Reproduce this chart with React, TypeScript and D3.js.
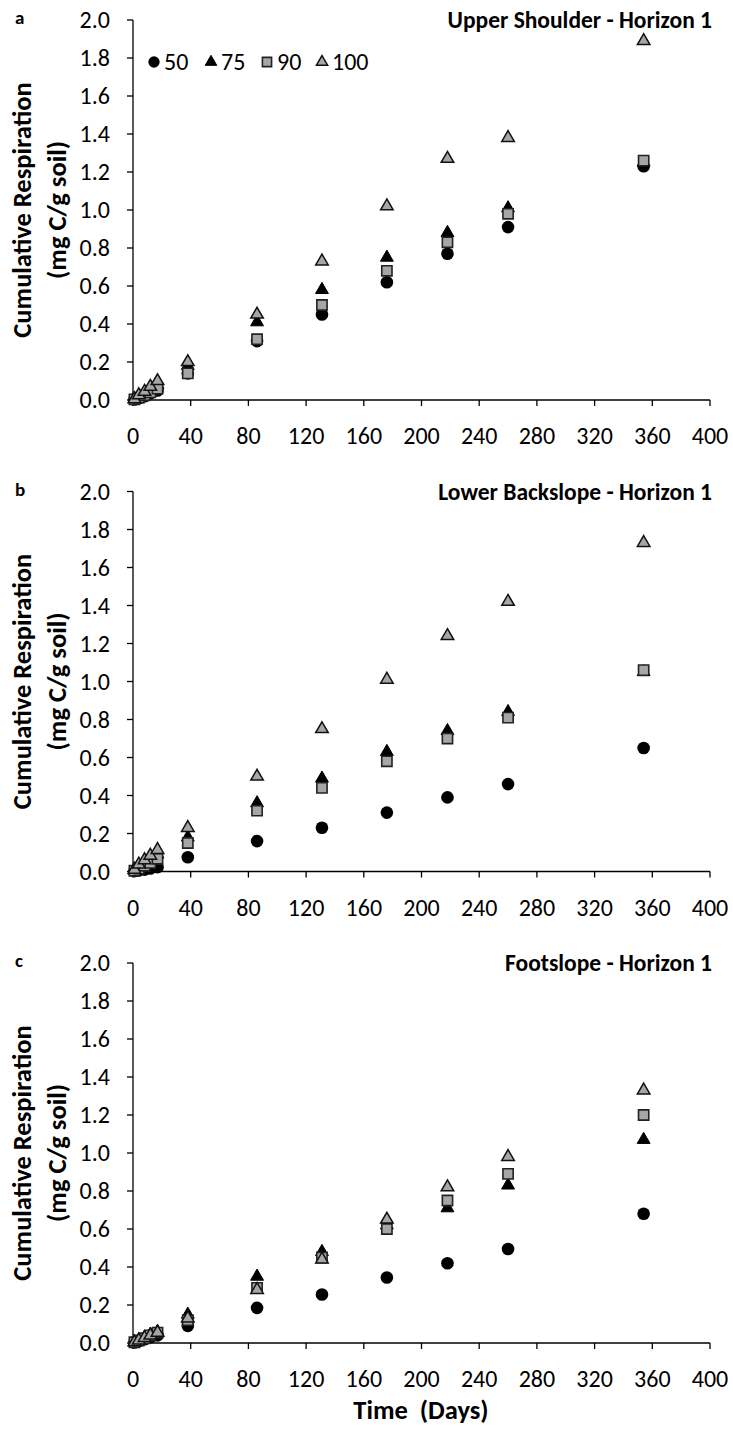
import React from "react";
import * as d3 from "d3";

const days = [1, 4, 8, 12, 17, 38, 86, 131, 176, 218, 260, 354];
const seriesNames = ["50", "75", "90", "100"];
const xTicks = [0, 40, 80, 120, 160, 200, 240, 280, 320, 360, 400];
const yTicks = [0, 0.2, 0.4, 0.6, 0.8, 1.0, 1.2, 1.4, 1.6, 1.8, 2.0];

const panelLetters = ["a", "b", "c"];
const panelTitles = ["Upper Shoulder - Horizon 1", "Lower Backslope - Horizon 1", "Footslope - Horizon 1"];

const a50 = [0.003, 0.01, 0.02, 0.035, 0.05, 0.14, 0.31, 0.45, 0.62, 0.77, 0.91, 1.23];
const a75 = [0.005, 0.015, 0.03, 0.05, 0.08, 0.18, 0.41, 0.58, 0.75, 0.88, 1.01, 1.25];
const a90 = [0.003, 0.012, 0.025, 0.04, 0.06, 0.14, 0.32, 0.50, 0.68, 0.83, 0.98, 1.26];
const a100 = [0.005, 0.026, 0.044, 0.07, 0.10, 0.20, 0.45, 0.73, 1.02, 1.27, 1.38, 1.89];

const b50 = [0.002, 0.006, 0.01, 0.016, 0.023, 0.075, 0.16, 0.23, 0.31, 0.39, 0.46, 0.65];
const b75 = [0.005, 0.02, 0.04, 0.06, 0.09, 0.18, 0.36, 0.49, 0.63, 0.74, 0.84, 1.05];
const b90 = [0.004, 0.015, 0.03, 0.045, 0.067, 0.15, 0.32, 0.44, 0.58, 0.70, 0.81, 1.06];
const b100 = [0.01, 0.037, 0.06, 0.084, 0.114, 0.23, 0.50, 0.75, 1.01, 1.24, 1.42, 1.73];

const c50 = [0.003, 0.01, 0.02, 0.03, 0.04, 0.09, 0.185, 0.255, 0.345, 0.42, 0.495, 0.68];
const c75 = [0.005, 0.015, 0.03, 0.045, 0.06, 0.15, 0.35, 0.48, 0.62, 0.71, 0.83, 1.07];
const c90 = [0.004, 0.013, 0.025, 0.04, 0.055, 0.12, 0.29, 0.45, 0.60, 0.75, 0.89, 1.20];
const c100 = [0.004, 0.014, 0.027, 0.04, 0.055, 0.13, 0.28, 0.44, 0.65, 0.82, 0.98, 1.33];

const panels = [
  [a50, a75, a90, a100],
  [b50, b75, b90, b100],
  [c50, c75, c90, c100],
];

const FONT = "Carlito, Calibri, Lato, 'Open Sans', sans-serif";
const GRAY = "#a6a6a6";

const markerStyles = [
  { type: d3.symbolCircle, size: 125, fill: "#000", stroke: "none", sw: 0 },
  { type: d3.symbolTriangle, size: 72, fill: "#000", stroke: "#000", sw: 1 },
  { type: d3.symbolSquare, size: 105, fill: GRAY, stroke: "#222", sw: 1.6 },
  { type: d3.symbolTriangle, size: 68, fill: GRAY, stroke: "#111", sw: 1.5 },
];

const X0 = 133;
const X1 = 710;
const PANEL_TOPS = [20, 491.5, 963];
const PANEL_H = 380;
const TICK_FS = 24;
const AXIS_FS = 26.5;

function Marker({ k, x, y, scale = 1 }: { k: number; x: number; y: number; scale?: number }) {
  const m = markerStyles[k];
  const path = d3.symbol().type(m.type).size(m.size * scale)() as string;
  return (
    <path
      d={path}
      transform={`translate(${x},${y})`}
      fill={m.fill}
      stroke={m.stroke}
      strokeWidth={m.sw}
      strokeLinejoin="miter"
    />
  );
}

function Panel({ idx }: { idx: number }) {
  const top = PANEL_TOPS[idx];
  const bottom = top + PANEL_H;
  const x = d3.scaleLinear().domain([0, 400]).range([X0, X1]);
  const y = d3.scaleLinear().domain([0, 2]).range([bottom, top]);
  const data = panels[idx];
  const midY = (top + bottom) / 2;
  return (
    <g>
      {/* y axis */}
      <line x1={X0} x2={X0} y1={top} y2={bottom} stroke="#000" strokeWidth={1.3} />
      {yTicks.map((t) => (
        <g key={"y" + t}>
          <line x1={X0 - 6} x2={X0} y1={y(t)} y2={y(t)} stroke="#000" strokeWidth={1.3} />
          <text x={110} y={y(t)} dy="0.35em" textAnchor="end" fontSize={TICK_FS} fontFamily={FONT} fill="#000">
            {d3.format(".1f")(t)}
          </text>
        </g>
      ))}
      {/* x axis */}
      <line x1={X0} x2={X1} y1={bottom} y2={bottom} stroke="#000" strokeWidth={1.3} />
      {xTicks.map((t) => (
        <g key={"x" + t}>
          <line x1={x(t)} x2={x(t)} y1={bottom} y2={bottom + 6} stroke="#000" strokeWidth={1.3} />
          <text x={x(t)} y={bottom + 44} textAnchor="middle" fontSize={TICK_FS} fontFamily={FONT} fill="#000">
            {t}
          </text>
        </g>
      ))}
      {/* y label */}
      <text
        transform={`translate(31,${midY}) rotate(-90)`}
        textAnchor="middle"
        fontSize={AXIS_FS}
        fontWeight="bold"
        fontFamily={FONT}
      >
        Cumulative Respiration
      </text>
      <text
        transform={`translate(66,${midY}) rotate(-90)`}
        textAnchor="middle"
        fontSize={AXIS_FS}
        fontWeight="bold"
        fontFamily={FONT}
      >
        (mg C/g soil)
      </text>
      {/* letter & title */}
      <text x={15} y={top + 4} fontSize={19} fontWeight="bold" fontFamily={FONT}>
        {panelLetters[idx]}
      </text>
      <text x={712} y={top + 8} textAnchor="end" fontSize={23.5} fontWeight="bold" fontFamily={FONT}>
        {panelTitles[idx]}
      </text>
      {/* data */}
      {data.map((vals, k) => (
        <g key={"s" + k}>
          {vals.map((v, i) => (
            <Marker key={i} k={k} x={x(days[i])} y={y(v)} />
          ))}
        </g>
      ))}
    </g>
  );
}

function Legend() {
  const items = [154, 211, 267, 322];
  const yy = 62;
  return (
    <g>
      {seriesNames.map((n, k) => (
        <g key={n}>
          <Marker k={k} x={items[k]} y={yy} scale={0.8} />
          <text x={items[k] + 10} y={yy} dy="0.35em" fontSize={TICK_FS} fontFamily={FONT}>
            {n}
          </text>
        </g>
      ))}
    </g>
  );
}

export default function App() {
  return (
    <svg
      width={733}
      height={1429}
      style={{ position: "absolute", left: 0, top: 0, background: "#fff" }}
    >
      <rect width={733} height={1429} fill="#fff" />
      {[0, 1, 2].map((i) => (
        <Panel key={i} idx={i} />
      ))}
      <Legend />
      <text x={421} y={1419} textAnchor="middle" fontSize={AXIS_FS} fontWeight="bold" fontFamily={FONT} xmlSpace="preserve">
        Time  (Days)
      </text>
    </svg>
  );
}
